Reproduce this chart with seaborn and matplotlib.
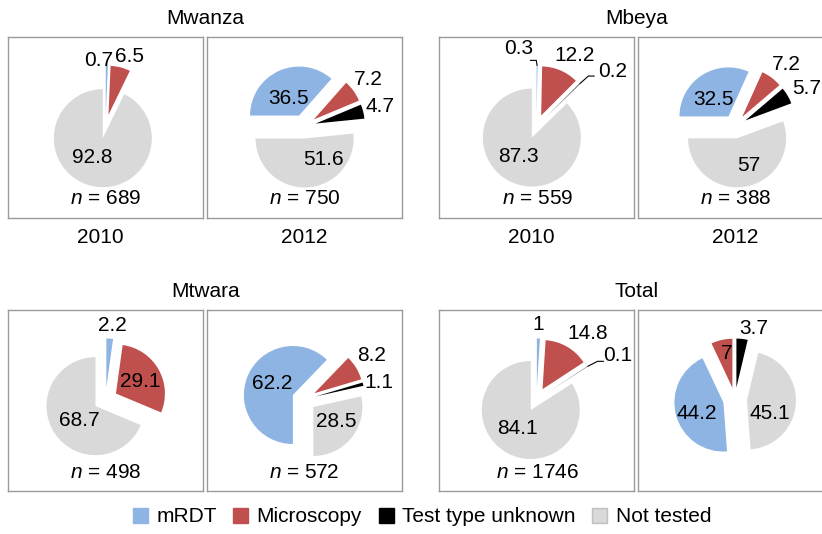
# Pie charts of malaria test type by region and year
import numpy as np
import matplotlib
matplotlib.use('Agg')
import matplotlib.pyplot as plt
import matplotlib.patches as mpatches
import seaborn as sns

# Data (percent of febrile patients by test type)
categories = ['mRDT', 'Microscopy', 'Test type unknown', 'Not tested']
regions = ['Mwanza', 'Mbeya', 'Mtwara', 'Total']
years = ['2010', '2012']

mwanza_2010 = [0.7, 6.5, 0, 92.8]
mwanza_2012 = [36.5, 7.2, 4.7, 51.6]
mbeya_2010 = [0.3, 12.2, 0.2, 87.3]
mbeya_2012 = [32.5, 7.2, 5.7, 57]
mtwara_2010 = [2.2, 29.1, 0, 68.7]
mtwara_2012 = [62.2, 8.2, 1.1, 28.5]
total_2010 = [1, 14.8, 0.1, 84.1]
total_2012 = [44.2, 7, 3.7, 45.1]

sample_n = {'Mwanza': [689, 750], 'Mbeya': [559, 388],
            'Mtwara': [498, 572], 'Total': [1746, None]}

values = {('Mwanza', '2010'): mwanza_2010, ('Mwanza', '2012'): mwanza_2012,
          ('Mbeya', '2010'): mbeya_2010, ('Mbeya', '2012'): mbeya_2012,
          ('Mtwara', '2010'): mtwara_2010, ('Mtwara', '2012'): mtwara_2012,
          ('Total', '2010'): total_2010, ('Total', '2012'): total_2012}

# Style
sns.set_theme(style='white')
plt.rcParams['font.family'] = ['Liberation Sans', 'DejaVu Sans']
plt.rcParams['text.color'] = 'black'
plt.rcParams['mathtext.fontset'] = 'custom'
plt.rcParams['mathtext.it'] = 'Liberation Sans:italic'
plt.rcParams['mathtext.rm'] = 'Liberation Sans'
colors = sns.color_palette(['#8DB4E2', '#C0504D', '#000000', '#D9D9D9'])
FS = 15

W, H = 822, 534
BOX_W, BOX_H = 195, 181
R = 49          # pie radius in pixels
EXPLODE = 12    # explode offset in pixels
box_left = {'Mwanza': [8, 206.5], 'Mbeya': [439, 637.5],
            'Mtwara': [8, 206.5], 'Total': [439, 637.5]}
box_top = {'Mwanza': 37, 'Mbeya': 37, 'Mtwara': 310, 'Total': 310}

# start angle (math degrees, slices go clockwise)
start = {('Mwanza', '2010'): 90, ('Mwanza', '2012'): 180,
         ('Mbeya', '2010'): 90, ('Mbeya', '2012'): 180,
         ('Mtwara', '2010'): 90, ('Mtwara', '2012'): -90,
         ('Total', '2010'): 90, ('Total', '2012'): -85.7}

# label placement: (distance in radii, clockwise angle shift, leader end offset)
lab = {
    ('Mwanza', '2010'): [(1.12, -9, None), (1.26, 6, None), None, (0.46, 16, None)],
    ('Mwanza', '2012'): [(0.40, -8, None), (1.38, -1, None), (1.36, -1, None), (0.58, -40, None)],
    ('Mbeya', '2010'): [(1.40, -16, (12, -12)), (1.40, 6, None), (1.67, 10, (-18, -4.5)), (0.47, 12, None)],
    ('Mbeya', '2012'): [(0.46, -10, None), (1.39, 3, None), (1.41, 3, None), (0.61, -13, None)],
    ('Mtwara', '2010'): [(1.27, 2, None), (0.55, 2, None), None, (0.45, -8, None)],
    ('Mtwara', '2012'): [(0.48, 8, None), (1.41, -2, None), (1.32, 2.5, None), (0.55, -5, None)],
    ('Total', '2010'): [(1.28, -1, None), (1.46, 9, None), (1.64, 5, (-14, -6)), (0.47, 8, None)],
    ('Total', '2012'): [(0.59, -7, None), (0.70, 3, None), (1.25, 10, None), (0.53, 25, None)],
}

fig = plt.figure(figsize=(W / 100, H / 100), dpi=100)

for region in regions:
    for j, year in enumerate(years):
        key = (region, year)
        x0 = box_left[region][j]
        y0 = box_top[region]
        ax = fig.add_axes([x0 / W, 1 - (y0 + BOX_H) / H, BOX_W / W, BOX_H / H])
        cx, cy = BOX_W / 2, BOX_H - 89.5
        wedges, _ = ax.pie(values[key], colors=colors, explode=[EXPLODE] * 4,
                           radius=R, center=(cx, cy), startangle=start[key],
                           counterclock=False, frame=True,
                           wedgeprops=dict(linewidth=0))
        ax.set_xlim(0, BOX_W)
        ax.set_ylim(0, BOX_H)
        ax.set_xticks([])
        ax.set_yticks([])
        for s in ax.spines.values():
            s.set_color('#9a9a9a')
            s.set_linewidth(1.0)

        for v, w, spec in zip(values[key], wedges, lab[key]):
            if spec is None or v == 0:
                continue
            dist, dphi, leader = spec
            mid = np.deg2rad((w.theta1 + w.theta2) / 2)
            ang = mid - np.deg2rad(dphi)
            wx, wy = w.center
            px = wx + R * dist * np.cos(ang)
            py = wy + R * dist * np.sin(ang)
            ax.text(px, py, '{:g}'.format(v), ha='center', va='center',
                    fontsize=FS, color='black')
            if leader is not None:
                tx = wx + R * np.cos(mid)
                ty = wy + R * np.sin(mid)
                ex, ey = px + leader[0], py + leader[1]
                elx = ex + 6 * np.sign(tx - ex)
                ax.plot([tx, elx, ex], [ty, ey, ey], color='black', lw=0.8)

        n = sample_n[region][j]
        if n is not None:
            ax.text(98, BOX_H - 162, '$n$ = {}'.format(n), ha='center', va='center',
                    fontsize=FS, color='black')

        # year labels under the top row
        if region in ('Mwanza', 'Mbeya'):
            shift = -5 if year == '2010' else 0
            fig.text((x0 + BOX_W / 2 + shift) / W, 1 - 237.5 / H, year,
                     ha='center', va='center', fontsize=FS, color='black')

    title_y = 18 if region in ('Mwanza', 'Mbeya') else 291.5
    left = box_left[region][0]
    fig.text((left + 197.5) / W, 1 - title_y / H, region, ha='center', va='center',
             fontsize=FS, color='black')

handles = [mpatches.Patch(facecolor=c, edgecolor=c) for c in colors]
handles[3].set_edgecolor('#bfbfbf')
leg = fig.legend(handles, categories, loc='center', bbox_to_anchor=(422 / W, 1 - 517 / H),
                 ncol=4, frameon=False, fontsize=FS, handlelength=0.72, handleheight=0.72,
                 handletextpad=0.4, columnspacing=0.8, borderaxespad=0)
for t in leg.get_texts():
    t.set_color('black')

plt.savefig('out.png', dpi=100)
